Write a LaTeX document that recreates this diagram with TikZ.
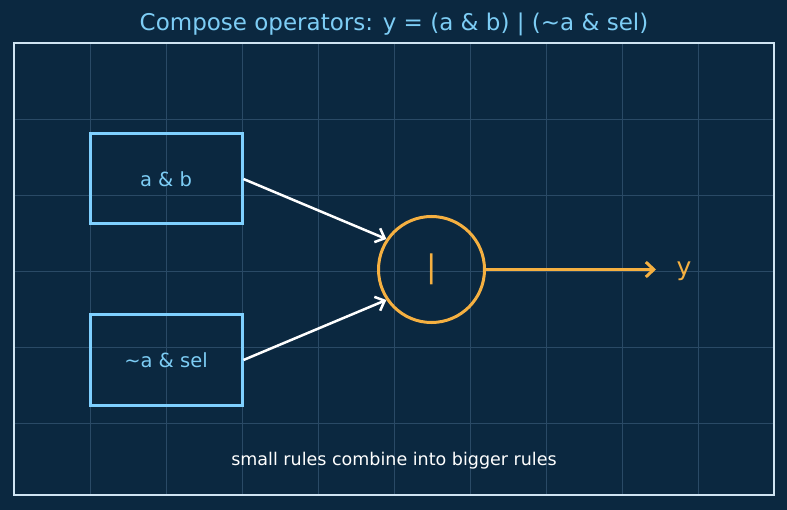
\documentclass[tikz,border=0pt]{standalone}
\usepackage{fontspec}
\setmainfont{DejaVu Sans}
\usetikzlibrary{arrows.meta}
\definecolor{bg}{HTML}{0B2840}
\definecolor{gridc}{HTML}{2A4A66}
\definecolor{framec}{HTML}{CFE4F2}
\definecolor{boxc}{HTML}{7FD0FF}
\definecolor{titlec}{HTML}{7DCDF5}
\definecolor{orng}{HTML}{F5B041}
\tikzset{
  opbox/.style={draw=boxc, line width=3pt, minimum width=152pt, minimum height=90pt, inner sep=0pt, text=titlec, font=\fontsize{19.5}{22}\selectfont},
  wire/.style={draw=white, line width=2.5pt, -{Straight Barb[length=8pt,width=15pt]}},
  owire/.style={draw=orng, line width=3pt, -{Straight Barb[length=8pt,width=15pt]}},
}
\begin{document}
\begin{tikzpicture}[x=1pt,y=-1pt]
\fill[bg] (0,0) rectangle (787,510);
\useasboundingbox (0,0) rectangle (787,510);
\foreach \x in {90,166,...,698} \draw[gridc, line width=0.7pt] (\x,43) -- (\x,495);
\foreach \y in {119,195,...,423} \draw[gridc, line width=0.7pt] (14,\y) -- (774,\y);
\draw[framec, line width=2pt] (14,43) rectangle (774,495);
\node[text=titlec, font=\fontsize{23}{26}\selectfont] (title) at (394,24) {Compose operators: y = (a \& b) | (\char`\~a \& sel)};
\node[opbox] (ab) at (166,179) {a \& b};
\node[opbox] (as) at (166,360) {\char`\~a \& sel};
\node[circle, draw=orng, line width=3pt, minimum size=106pt, inner sep=0pt, text=orng, font=\fontsize{31}{33}\selectfont] (or) at (431.5,269.5) {|};
\node[text=orng, font=\fontsize{25}{28}\selectfont] (y) at (684,271) {y};
\coordinate (yin) at (656,269.5);
\draw[wire] (ab.east) -- (or.146);
\draw[wire] (as.east) -- (or.214);
\draw[owire] (or.east) -- (yin);
\node[text=white, font=\fontsize{17.5}{20}\selectfont] (note) at (394,461) {small rules combine into bigger rules};
\end{tikzpicture}
\end{document}
